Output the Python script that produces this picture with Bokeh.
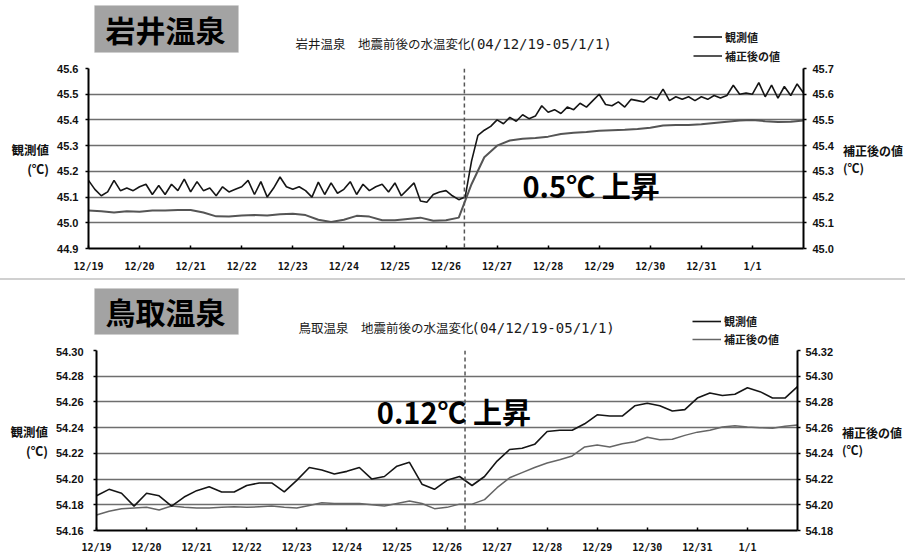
import numpy as np
from bokeh.plotting import figure
from bokeh.models import (LinearAxis, Range1d, FixedTicker, PrintfTickFormatter,
                          Label, Span, Legend, LegendItem, Div, BoxAnnotation)
from bokeh.layouts import column
from bokeh.embed import file_html
from bokeh.resources import INLINE

# ---------------- data ----------------
day_ticks = list(range(14))
day_labels = ["12/19", "12/20", "12/21", "12/22", "12/23", "12/24", "12/25",
              "12/26", "12/27", "12/28", "12/29", "12/30", "12/31", "1/1"]
quake_day = 7.36  # 2004/12/26 Sumatra earthquake (days after 12/19 0:00)

# 岩井温泉 観測値 (left axis), every 3 hours from 12/19 0:00
iwai_obs = [
    45.165, 45.13, 45.105, 45.12, 45.165, 45.125, 45.135, 45.125, 45.14, 45.15,
    45.11, 45.145, 45.11, 45.15, 45.125, 45.17, 45.12, 45.16, 45.125, 45.135,
    45.105, 45.14, 45.12, 45.13, 45.14, 45.165, 45.11, 45.16, 45.10, 45.135,
    45.178, 45.14, 45.13, 45.14, 45.125, 45.10, 45.158, 45.11, 45.155, 45.115,
    45.13, 45.16, 45.11, 45.15, 45.125, 45.14, 45.15, 45.12, 45.155, 45.105,
    45.13, 45.155, 45.085, 45.08, 45.11, 45.12, 45.125, 45.105, 45.09, 45.10,
    45.24, 45.34, 45.36, 45.375, 45.40, 45.385, 45.41, 45.395, 45.42, 45.405,
    45.415, 45.455, 45.43, 45.44, 45.425, 45.45, 45.44, 45.465, 45.45, 45.475,
    45.50, 45.46, 45.455, 45.47, 45.45, 45.48, 45.475, 45.47, 45.49, 45.48,
    45.52, 45.475, 45.49, 45.48, 45.49, 45.475, 45.49, 45.48, 45.495, 45.485,
    45.495, 45.535, 45.50, 45.505, 45.50, 45.545, 45.49, 45.535, 45.485, 45.53,
    45.495, 45.54, 45.505,
]
# 岩井温泉 補正後の値 (right axis), every 6 hours
iwai_corr = [
    45.148, 45.145, 45.14, 45.145, 45.143, 45.148, 45.148, 45.15, 45.15, 45.14,
    45.125, 45.124, 45.128, 45.13, 45.128, 45.133, 45.135, 45.13, 45.112, 45.103,
    45.112, 45.127, 45.124, 45.11, 45.11, 45.115, 45.12, 45.108, 45.11, 45.12,
    45.25, 45.355, 45.40, 45.42, 45.427, 45.43, 45.435, 45.445, 45.45, 45.453,
    45.458, 45.46, 45.462, 45.465, 45.47, 45.478, 45.48, 45.48, 45.483, 45.488,
    45.493, 45.498, 45.50, 45.495, 45.492, 45.493, 45.498,
]
# 鳥取温泉 観測値 (left axis), every 6 hours
tottori_obs = [
    54.187, 54.192, 54.189, 54.179, 54.189, 54.187, 54.179, 54.186, 54.191, 54.194,
    54.19, 54.19, 54.195, 54.197, 54.197, 54.19, 54.199, 54.209, 54.207, 54.204,
    54.206, 54.209, 54.20, 54.202, 54.21, 54.213, 54.196, 54.192, 54.199, 54.202,
    54.195, 54.202, 54.214, 54.223, 54.224, 54.227, 54.237, 54.238, 54.238, 54.243,
    54.25, 54.249, 54.249, 54.257, 54.259, 54.257, 54.253, 54.254, 54.263, 54.267,
    54.265, 54.266, 54.271, 54.268, 54.263, 54.263, 54.272,
]
# 鳥取温泉 補正後の値 (right axis), every 6 hours
tottori_corr = [
    54.192, 54.195, 54.197, 54.1975, 54.198, 54.196, 54.199, 54.198, 54.1975, 54.1975,
    54.198, 54.1985, 54.198, 54.1985, 54.199, 54.198, 54.1975, 54.1995, 54.2015, 54.201,
    54.201, 54.201, 54.20, 54.199, 54.201, 54.203, 54.201, 54.197, 54.198, 54.2005,
    54.2005, 54.204, 54.2133, 54.221, 54.225, 54.229, 54.2325, 54.235, 54.238, 54.245,
    54.2465, 54.245, 54.2475, 54.249, 54.2525, 54.2505, 54.251, 54.254, 54.2565, 54.258,
    54.2605, 54.2614, 54.2605, 54.26, 54.2595, 54.261, 54.262,
]

t3 = np.arange(len(iwai_obs)) * 0.125
t6 = np.arange(len(iwai_corr)) * 0.25

JP = "Noto Sans CJK JP"
W = 905


def no_align(p):
    # keep each figure's own frame (do not align frames across the column)
    if "frame_align" in p.properties():
        p.frame_align = False
    return p


def make_header(cfg):
    """Strip above a chart: name box, chart title and legend."""
    H = cfg["height"]
    top = cfg["page_top"]
    h = figure(width=W, height=H, output_backend="svg", toolbar_location=None,
               x_range=Range1d(0, W), y_range=Range1d(H, 0),
               x_axis_type=None, y_axis_type=None, outline_line_color=None,
               min_border_left=0, min_border_right=0, min_border_top=0,
               min_border_bottom=0)
    no_align(h)
    h.xgrid.grid_line_color = None
    h.ygrid.grid_line_color = None

    def lab(text, px, py, size, style="normal", font=JP, align="center", **kw):
        h.add_layout(Label(x=px, y=py - top, text=text, text_font=font,
                           text_font_size=size, text_font_style=style,
                           text_align=align, text_baseline="middle", **kw))

    bx0, by0, bx1, by1 = cfg["box"]
    h.add_layout(BoxAnnotation(left=bx0, right=bx1, top=by0 - top, bottom=by1 - top,
                               fill_color="#a3a3a3", fill_alpha=1.0,
                               line_color="#c8c8c8", line_width=1))
    lab(cfg["name"], cfg["name_xy"][0], cfg["name_xy"][1], "30px", "bold",
        text_color="black")
    tx, ty = cfg["title_xy"]
    lab(cfg["title"], tx, ty, "12.5px", align="left", text_color="#1a1a1a")
    lab("(04/12/19-05/1/1)", cfg["title2_x"], ty, "14px", font="DejaVu Sans Mono",
        align="left", text_color="#1a1a1a")

    # legend swatches (a single NaN point: nothing is drawn in the strip itself)
    r_obs = h.line(x=[np.nan], y=[np.nan], line_color="#151515", line_width=1.6)
    r_cor = h.line(x=[np.nan], y=[np.nan], line_color=cfg["corr_color"],
                   line_width=cfg["corr_width"])
    row = cfg["legend_row"]
    lx, ly_top = cfg["legend_xy"]
    legend = Legend(items=[LegendItem(label="観測値", renderers=[r_obs]),
                           LegendItem(label="補正後の値", renderers=[r_cor])],
                    location=(lx, (top + H) - (ly_top + 2 * row)),
                    padding=0, margin=0, spacing=0,
                    glyph_width=29, glyph_height=row, label_height=row,
                    label_standoff=3, label_text_font=JP, label_text_font_size="11px",
                    label_text_font_style="bold", label_text_color="#1a1a1a",
                    background_fill_alpha=0, border_line_alpha=0)
    h.add_layout(legend)
    return h


def make_chart(cfg):
    H = cfg["height"]
    bl, br, bt = cfg["border_left"], cfg["border_right"], cfg["border_top"]
    fh = cfg["frame_h"]
    bb = H - bt - fh
    xr = (0.0, 14.0)

    p = figure(width=W, height=H, output_backend="svg", toolbar_location=None,
               x_range=Range1d(*xr), y_range=Range1d(*cfg["left_range"]),
               min_border_left=bl, min_border_right=br, min_border_top=bt,
               min_border_bottom=bb, outline_line_color=None)
    no_align(p)
    p.extra_y_ranges = {"right": Range1d(*cfg["right_range"])}

    p.xaxis.ticker = FixedTicker(ticks=day_ticks)
    p.xaxis.major_label_overrides = {i: s for i, s in zip(day_ticks, day_labels)}
    p.xaxis.major_label_text_font = "DejaVu Sans Mono"
    p.xaxis.major_label_text_font_style = "bold"
    p.xaxis.major_label_text_font_size = "10px"
    p.xaxis.major_label_text_color = "#111111"
    p.xaxis.major_label_standoff = cfg["x_standoff"]
    p.xaxis.major_tick_in = 3
    p.xaxis.major_tick_out = 0

    raxis = LinearAxis(y_range_name="right")
    p.add_layout(raxis, "right")
    for ax, ticks in ((p.yaxis[0], cfg["left_ticks"]), (raxis, cfg["right_ticks"])):
        ax.ticker = FixedTicker(ticks=ticks)
        ax.formatter = PrintfTickFormatter(format=cfg["fmt"])
        ax.major_label_text_font = "Liberation Sans"
        ax.major_label_text_font_style = "bold"
        ax.major_label_text_font_size = "11px"
        ax.major_label_text_color = "#111111"
        ax.major_tick_out = 3
        ax.major_tick_in = 0
        ax.axis_label_orientation = "horizontal"
        ax.axis_label_text_font = JP
        ax.axis_label_text_font_style = "bold"
        ax.axis_label_text_color = "#111111"
        ax.axis_label_text_line_height = 1.0
    p.yaxis[0].axis_label = "観測値\n(℃)"
    p.yaxis[0].axis_label_text_font_size = "12.5px"
    p.yaxis[0].axis_label_standoff = 5
    p.yaxis[0].major_label_standoff = cfg["l_standoff"]
    raxis.axis_label = "補正後の値\n(℃)"
    raxis.axis_label_text_font_size = "12px"
    raxis.axis_label_standoff = 6
    raxis.major_label_standoff = cfg["r_standoff"]
    for ax in (p.xaxis[0], p.yaxis[0], raxis):
        ax.axis_line_width = 2
        ax.axis_line_color = "black"
        ax.major_tick_line_color = "black"
        ax.major_tick_line_width = 1.5
        ax.minor_tick_line_color = None

    p.xgrid.grid_line_color = None
    p.ygrid.ticker = FixedTicker(ticks=cfg["left_ticks"])
    p.ygrid.grid_line_color = "#6e6e6e"
    p.ygrid.grid_line_width = 1.6

    p.line(cfg["t_corr"], cfg["corr"], y_range_name="right",
           line_color=cfg["corr_color"], line_width=cfg["corr_width"])
    p.line(cfg["t_obs"], cfg["obs"], line_color="#151515", line_width=1.6)

    p.add_layout(Span(location=quake_day, dimension="height", line_color="#555555",
                      line_width=1.5, line_dash="4 3"))

    # annotation inside the plot frame (position given in page pixels)
    page_x0 = bl
    page_y0 = cfg["page_top"] + bt
    fw = W - bl - br
    yl = cfg["left_range"]
    nx, ny = cfg["note_xy"]
    p.add_layout(Label(x=xr[0] + (nx - page_x0) / fw * (xr[1] - xr[0]),
                       y=yl[1] - (ny - page_y0) / fh * (yl[1] - yl[0]),
                       text=cfg["note"], text_font=JP, text_font_size="29px",
                       text_font_style="bold", text_color="black",
                       text_align="center", text_baseline="middle"))
    return p


h1 = make_header(dict(
    height=64, page_top=0, name="岩井温泉", box=(94, 5, 238, 52), name_xy=(165, 28),
    title="岩井温泉　地震前後の水温変化", title_xy=(295, 43), title2_x=468,
    legend_xy=(693, 27), legend_row=19, corr_color="#555555", corr_width=2.0,
))
p1 = make_chart(dict(
    height=214, page_top=64, border_left=88, border_right=100, border_top=4, frame_h=180,
    left_range=(44.9, 45.6), right_range=(45.0, 45.7),
    left_ticks=[44.9, 45.0, 45.1, 45.2, 45.3, 45.4, 45.5, 45.6],
    right_ticks=[45.0, 45.1, 45.2, 45.3, 45.4, 45.5, 45.6, 45.7], fmt="%.1f",
    x_standoff=12, l_standoff=7, r_standoff=6,
    t_obs=t3, obs=iwai_obs, t_corr=t6, corr=iwai_corr,
    corr_color="#555555", corr_width=2.0,
    note="0.5℃ 上昇", note_xy=(592, 184),
))

sep = Div(width=W, height=2, styles={"background-color": "#d0d0d0"}, margin=(0, 0, 0, 0))

h2 = make_header(dict(
    height=67, page_top=280, name="鳥取温泉", box=(94, 288, 238, 334), name_xy=(165, 310),
    title="鳥取温泉　地震前後の水温変化", title_xy=(298, 327), title2_x=471,
    legend_xy=(692, 312), legend_row=18, corr_color="#666666", corr_width=1.5,
))
p2 = make_chart(dict(
    height=208, page_top=347, border_left=96, border_right=103, border_top=3, frame_h=182,
    left_range=(54.16, 54.30), right_range=(54.18, 54.32),
    left_ticks=[54.16, 54.18, 54.20, 54.22, 54.24, 54.26, 54.28, 54.30],
    right_ticks=[54.18, 54.20, 54.22, 54.24, 54.26, 54.28, 54.30, 54.32], fmt="%.2f",
    x_standoff=11, l_standoff=10, r_standoff=5,
    t_obs=t6, obs=tottori_obs, t_corr=t6, corr=tottori_corr,
    corr_color="#666666", corr_width=1.5,
    note="0.12℃ 上昇", note_xy=(456, 411),
))

layout = column(h1, p1, sep, h2, p2, spacing=0)
open("out.html", "w").write(file_html(layout, INLINE))
